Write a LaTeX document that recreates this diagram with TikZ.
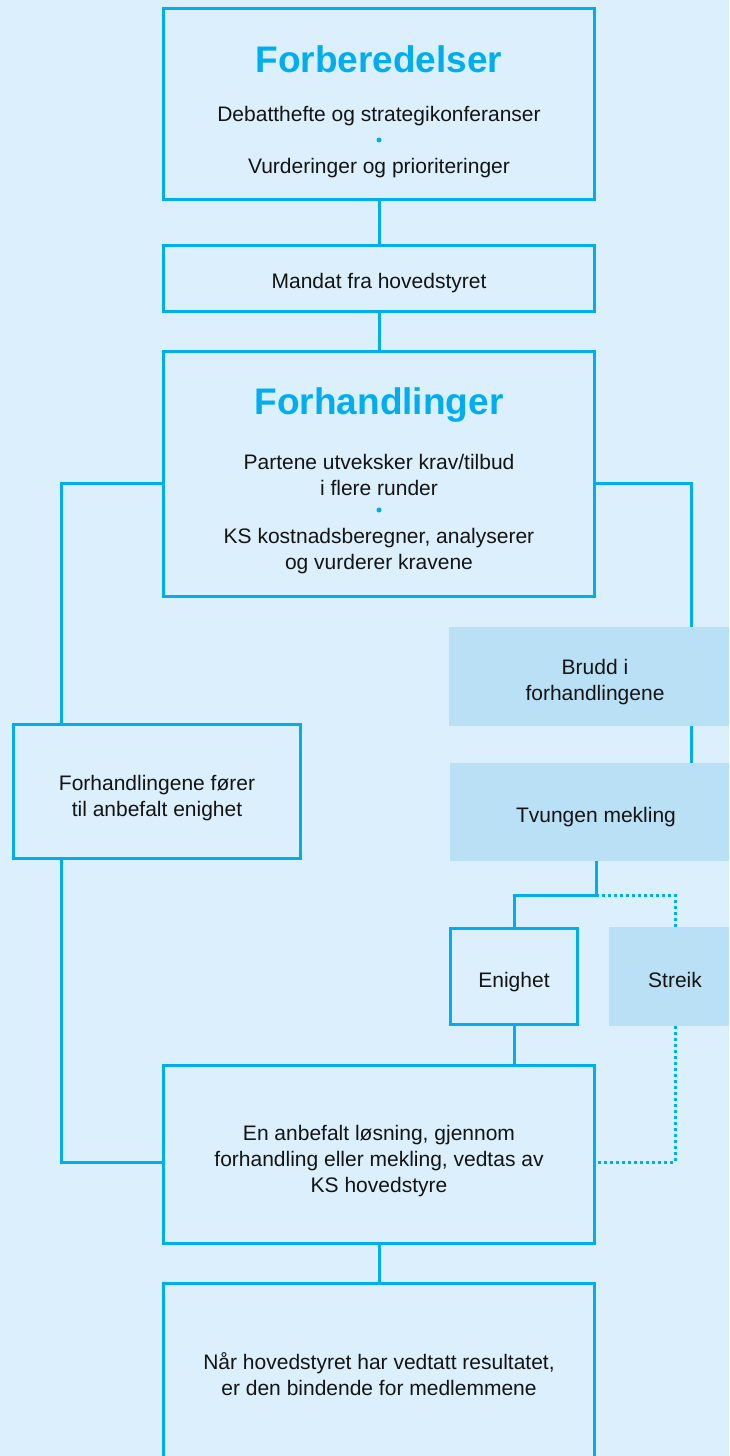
\documentclass[tikz,border=0pt]{standalone}
\usepackage{fontspec}
\setmainfont{Liberation Sans}
\definecolor{bg}{RGB}{219,239,252}
\definecolor{ln}{RGB}{0,174,239}
\definecolor{sh}{RGB}{186,224,245}
\definecolor{tx}{RGB}{20,20,20}
\begin{document}
\begin{tikzpicture}[x=1pt,y=-1pt,
 box/.style={draw=ln, line width=3pt, fill=bg, rectangle, inner sep=0pt, outer sep=0pt},
 shbox/.style={fill=sh, rectangle, inner sep=0pt, outer sep=0pt},
 conn/.style={draw=ln, line width=3pt},
 dotconn/.style={draw=ln, line width=3pt, dash pattern=on 3pt off 3pt},
 lbl/.style={text=tx, font=\fontsize{21}{26}\selectfont, align=center, inner sep=0pt},
 ttl/.style={text=ln, font=\fontsize{37}{44}\selectfont\bfseries, inner sep=0pt},
 bul/.style={circle, fill=ln, inner sep=0pt, minimum size=5pt}]
\fill[bg] (0,0) rectangle (729,1456);
\useasboundingbox (0,0) rectangle (729,1456);
\clip (0,0) rectangle (729,1456);

% boxes
\node[box, minimum width=431pt, minimum height=191pt] (b1) at (379,104) {};
\node[ttl] (t1) at (379,59) {Forberedelser};
\node[lbl] (l1a) at (379,116) {Debatthefte og strategikonferanser};
\node[bul] (d1) at (379,140) {};
\node[lbl] (l1b) at (379,168) {Vurderinger og prioriteringer};

\node[box, minimum width=431pt, minimum height=66pt] (b2) at (379,278.5) {};
\node[lbl] (l2) at (379,283.5) {Mandat fra hovedstyret};

\node[box, minimum width=431pt, minimum height=245pt] (b3) at (379,474) {};
\node[ttl] (t3) at (379,405) {Forhandlinger};
\node[lbl] (l3a) at (379,475) {Partene utveksker krav/tilbud\\i flere runder};
\node[bul] (d3) at (379,510) {};
\node[lbl] (l3b) at (379,551) {KS kostnadsberegner, analyserer\\og vurderer kravene};

\node[box, minimum width=287pt, minimum height=134pt] (b4) at (157,791.5) {};
\node[lbl] (l4) at (157,798) {Forhandlingene fører\\til anbefalt enighet};

\node[shbox, minimum width=292pt, minimum height=99pt] (b5) at (595,676.5) {};
\node[lbl] (l5) at (595,682) {Brudd i\\forhandlingene};
\node[shbox, minimum width=292pt, minimum height=98pt] (b6) at (596,812) {};
\node[lbl] (l6) at (596,817.5) {Tvungen mekling};

\node[box, minimum width=127pt, minimum height=96pt] (b7) at (514,976.5) {};
\node[lbl] (l7) at (514,982.5) {Enighet};
\node[shbox, minimum width=132pt, minimum height=99pt] (b8) at (675,976.5) {};
\node[lbl] (l8) at (675,980) {Streik};

\node[box, minimum width=431pt, minimum height=178pt] (b9) at (379,1154.5) {};
\node[lbl] (l9) at (379,1161.5) {En anbefalt løsning, gjennom\\forhandling eller mekling, vedtas av\\KS hovedstyre};

\node[box, minimum width=431pt, minimum height=186.5pt] (b10) at (379,1376.75) {};
\node[lbl] (l10) at (379,1374.5) {Når hovedstyret har vedtatt resultatet,\\er den bindende for medlemmene};

% helper coordinates
\coordinate (xl) at (61,0);
\coordinate (xr) at (691,0);
\coordinate (ys) at (0,483);
\coordinate (ym) at (0,895);
\coordinate (yb) at (0,1162);

% connectors
\draw[conn] (b1.south) -- (b2.north);
\draw[conn] (b2.south) -- (b3.north);
\draw[conn] (b3.west |- ys) -| (b4.north -| xl);
\draw[conn] (b3.east |- ys) -| (b5.north -| xr);
\draw[conn] (b5.south -| xr) -- (b6.north -| xr);
\draw[conn] (b4.south -| xl) |- (b9.west |- yb);
\draw[conn] (b6.south) -- (b6.south |- ym) -| (b7.north);
\draw[dotconn] (b6.south |- ym) -| (b8.north);
\draw[conn] (b7.south) -- (b7.south |- b9.north);
\draw[dotconn] (b8.south) |- (b9.east |- yb);
\draw[conn] (b9.south) -- (b10.north);
\end{tikzpicture}
\end{document}
